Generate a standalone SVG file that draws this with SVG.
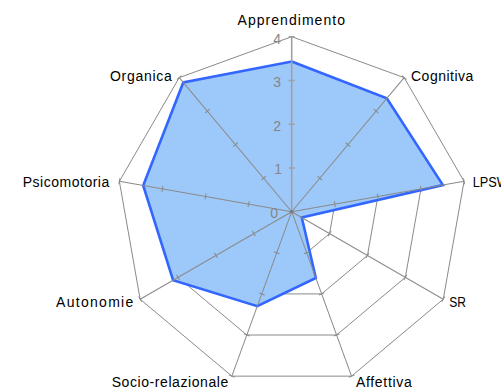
<svg xmlns="http://www.w3.org/2000/svg" xmlns:xlink="http://www.w3.org/1999/xlink" width="501" height="391" viewBox="0 0 501 391">
<style>
.ring{fill:none;stroke:#8a8a8a;stroke-width:1}
.ax{stroke:#8a8a8a;stroke-width:1;fill:none}
.vax{stroke:#a0a0a0;stroke-width:1.6;fill:none}
.lbl{font-family:"Liberation Sans",Arial,sans-serif;font-size:14px;fill:#000}
.num{font-family:"Liberation Sans",Arial,sans-serif;font-size:14px;fill:#858585;text-anchor:end}
.data{fill:#9dc8fa;stroke:#3366ff;stroke-width:2.6;stroke-linejoin:miter}
</style>
<defs>
<g id="axis">
<line class="ax" x1="291.7" y1="211.7" x2="291.7" y2="36.7"/>
<path class="ax" d="M288.7 167.95H294.7M288.7 124.2H294.7M288.7 80.45H294.7M288.7 36.7H294.7"/>
</g>
</defs>
<rect width="501" height="391" fill="#fff"/>
<g id="grid">
<polygon class="ring" points="291.7,167.95 319.82,178.19 334.79,204.10 329.59,233.58 306.66,252.81 276.74,252.81 253.81,233.58 248.61,204.10 263.58,178.19"/>
<polygon class="ring" points="291.7,124.2 347.94,144.67 377.87,196.51 367.48,255.45 321.63,293.92 261.77,293.92 215.92,255.45 205.53,196.51 235.46,144.67"/>
<polygon class="ring" points="291.7,80.45 376.07,111.16 420.95,188.91 405.36,277.33 336.59,335.03 246.81,335.03 178.04,277.33 162.45,188.91 207.33,111.16"/>
<polygon class="ring" points="291.7,36.7 404.19,77.65 464.04,181.32 443.25,299.2 351.55,376.15 231.85,376.15 140.15,299.2 119.36,181.32 179.21,77.65"/>
</g>
<g id="series">
<polygon class="data" points="291.7,61.5 386.8,98.4 442.9,185.05 301.8,217.55 315.85,278.04 257.3,306.2 173.1,280.15 143.2,185.5 183.26,82.5"/>
</g>
<g id="connectors">
<use xlink:href="#axis" transform="rotate(40 291.7 211.7)"/>
<use xlink:href="#axis" transform="rotate(80 291.7 211.7)"/>
<use xlink:href="#axis" transform="rotate(120 291.7 211.7)"/>
<use xlink:href="#axis" transform="rotate(160 291.7 211.7)"/>
<use xlink:href="#axis" transform="rotate(200 291.7 211.7)"/>
<use xlink:href="#axis" transform="rotate(240 291.7 211.7)"/>
<use xlink:href="#axis" transform="rotate(280 291.7 211.7)"/>
<use xlink:href="#axis" transform="rotate(320 291.7 211.7)"/>
<line class="vax" x1="291.7" y1="211.7" x2="291.7" y2="36.7"/>
<path class="vax" d="M288.7 167.95H294.7M288.7 124.2H294.7M288.7 80.45H294.7M288.7 36.7H294.7"/>
<circle cx="291.7" cy="211.7" r="1.8" fill="#7a7a7a"/>
</g>
<g id="scale">
<text class="num" x="281" y="43.5">4</text>
<text class="num" x="281" y="86.7">3</text>
<text class="num" x="281" y="131">2</text>
<text class="num" x="282" y="174">1</text>
<text class="num" x="278" y="218.3">0</text>
</g>
<g id="n-apprendimento"><text class="lbl" x="237.5" y="25" textLength="107.5" lengthAdjust="spacing">Apprendimento</text></g>
<g id="n-cognitiva"><text class="lbl" x="411" y="81" textLength="62.3" lengthAdjust="spacing">Cognitiva</text></g>
<g id="n-lpsw"><text class="lbl" x="472.7" y="187.3" textLength="36" lengthAdjust="spacingAndGlyphs">LPSW</text></g>
<g id="n-sr"><text class="lbl" x="449.3" y="306.7" textLength="16.7" lengthAdjust="spacingAndGlyphs">SR</text></g>
<g id="n-affettiva"><text class="lbl" x="356" y="387.3" textLength="55.7" lengthAdjust="spacing">Affettiva</text></g>
<g id="n-socio"><text class="lbl" x="111.7" y="386.7" textLength="116.6" lengthAdjust="spacing">Socio-relazionale</text></g>
<g id="n-autonomie"><text class="lbl" x="56" y="306.7" textLength="77.3" lengthAdjust="spacing">Autonomie</text></g>
<g id="n-psicomotoria"><text class="lbl" x="22.7" y="187.3" textLength="86.6" lengthAdjust="spacing">Psicomotoria</text></g>
<g id="n-organica"><text class="lbl" x="110" y="81" textLength="61.7" lengthAdjust="spacing">Organica</text></g>
</svg>
